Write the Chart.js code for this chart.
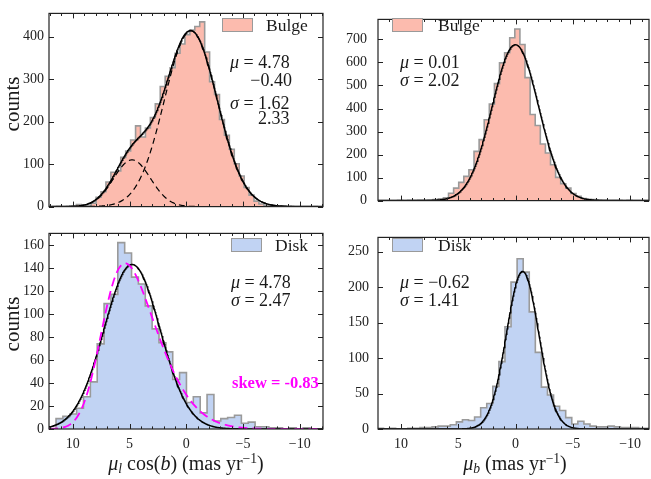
<!DOCTYPE html>
<html>
<head>
<meta charset="utf-8">
<script src="https://cdn.jsdelivr.net/npm/chart.js@4.4.1/dist/chart.umd.min.js"></script>
<style>
  html, body { margin: 0; padding: 0; background: #fff; }
  #fig { position: relative; width: 651px; height: 479px; overflow: hidden;
         font-family: 'Liberation Serif', 'Times New Roman', serif; color: #1a1a1a; }
  #fig canvas { position: absolute; }
  .t { position: absolute; white-space: nowrap; line-height: 1; }
  .ann { font-size: 18px; }
  .lab { font-size: 20px; }
  .leg { font-size: 17.5px; }
  .sw { position: absolute; width: 31px; height: 14px; border: 1.6px solid #9a9a9a; box-sizing: border-box; }
  sub, sup { font-size: 0.68em; line-height: 0; }
  sub { vertical-align: -0.25em; }
  sup { vertical-align: 0.55em; }
</style>
</head>
<body>
<div id="fig">
  <canvas id="cBulgeL" width="330" height="220" style="left:0;top:0"></canvas>
  <canvas id="cBulgeB" width="321" height="220" style="left:330px;top:0"></canvas>
  <canvas id="cDiskL" width="330" height="259" style="left:0;top:220px"></canvas>
  <canvas id="cDiskB" width="321" height="259" style="left:330px;top:220px"></canvas>

  <!-- legends -->
  <div class="sw" style="left:222px;top:18px;background:#FCBBAE"></div>
  <div class="t leg" style="left:266px;top:17px">Bulge</div>
  <div class="sw" style="left:392px;top:18px;background:#FCBBAE"></div>
  <div class="t leg" style="left:438px;top:17px">Bulge</div>
  <div class="sw" style="left:231px;top:238px;background:#C1D3F3"></div>
  <div class="t leg" style="left:275px;top:237px">Disk</div>
  <div class="sw" style="left:392px;top:238px;background:#C1D3F3"></div>
  <div class="t leg" style="left:438px;top:237px">Disk</div>

  <!-- fit parameters -->
  <div class="t ann" style="left:230px;top:53px"><i>μ</i> = 4.78</div>
  <div class="t ann" style="right:359px;top:71px">−0.40</div>
  <div class="t ann" style="left:230px;top:94px"><i>σ</i> = 1.62</div>
  <div class="t ann" style="left:258px;top:109px">2.33</div>

  <div class="t ann" style="left:400px;top:53px"><i>μ</i> = 0.01</div>
  <div class="t ann" style="left:400px;top:71px"><i>σ</i> = 2.02</div>

  <div class="t ann" style="left:231px;top:273px"><i>μ</i> = 4.78</div>
  <div class="t ann" style="left:231px;top:291px"><i>σ</i> = 2.47</div>
  <div class="t" style="left:232px;top:375px;font-size:16.5px;font-weight:bold;color:#FF00FF">skew = -0.83</div>

  <div class="t ann" style="left:400px;top:273px"><i>μ</i> = −0.62</div>
  <div class="t ann" style="left:400px;top:291px"><i>σ</i> = 1.41</div>

  <!-- axis titles -->
  <div class="t lab" style="left:12px;top:104px;font-size:21px;transform:translate(-50%,-50%) rotate(-90deg)">counts</div>
  <div class="t lab" style="left:12px;top:324px;font-size:21px;transform:translate(-50%,-50%) rotate(-90deg)">counts</div>
  <div class="t lab" style="left:186px;top:463px;transform:translate(-50%,-50%)"><i>μ</i><sub><i>l</i></sub> cos(<i>b</i>) (mas yr<sup>−1</sup>)</div>
  <div class="t lab" style="left:515px;top:463px;transform:translate(-50%,-50%)"><i>μ</i><sub><i>b</i></sub> (mas yr<sup>−1</sup>)</div>
</div>

<script>
// ---------- axes ----------
const xMajorTicks = [10, 5, 0, -5, -10];
const xMinorTicks = [12, 11, 9, 8, 7, 6, 4, 3, 2, 1, -1, -2, -3, -4, -6, -7, -8, -9, -11, -12];
const xRangeL = [-12.05, 12.1];          // mu_l cos(b) panels
const xRangeB = [-11.65, 12.0];          // mu_b panels
const yTicksBulgeL = [0, 100, 200, 300, 400];
const yTicksBulgeB = [0, 100, 200, 300, 400, 500, 600, 700];
const yTicksDiskL = [0, 20, 40, 60, 80, 100, 120, 140, 160];
const yTicksDiskB = [0, 50, 100, 150, 200, 250];
const yMaxBulgeL = 455, yMaxBulgeB = 787, yMaxDiskL = 170, yMaxDiskB = 270;

// ---------- histograms (first edge, bin width, counts from high to low proper motion) ----------
const bulgeLEdge0 = 11.865, bulgeLBin = 0.435;
const bulgeLCounts = [0, 1, 0, 1, 1, 5, 3, 3, 8, 22, 35, 58, 81, 84, 116, 131, 157, 190, 164, 185,
                      210, 242, 283, 307, 327, 361, 383, 405, 416, 424, 435,
                      364, 294, 264, 205, 168, 135, 101, 72, 45, 27, 13, 6, 3, 2, 1, 1, 0, 1, 0, 0, 0, 0, 0];
const bulgeBEdge0 = 12.075, bulgeBBin = 0.445;
const bulgeBCounts = [0, 0, 0, 0, 1, 0, 1, 1, 2, 2, 3, 5, 8, 12,
                      32, 54, 79, 105, 134, 214, 265, 351, 419, 508, 598, 642, 707, 745,
                      678, 534, 374, 326, 246, 207, 156, 101, 73, 54, 31, 19, 9, 6, 5,
                      3, 2, 1, 1, 1, 0, 1, 0, 0, 0, 0];
const diskLEdge0 = 11.48, diskLBin = 0.605;
const diskLCounts = [9, 11, 13, 18, 28, 41, 74, 109, 117, 162, 153, 132, 126, 107, 87, 75, 67, 43, 49, 23,
                     28, 14, 30, 7, 9, 10, 12, 5, 6, 2, 2, 1, 1, 0, 1, 0, 1, 0, 0];
const diskBEdge0 = 12.05, diskBBin = 0.53;
const diskBCounts = [1, 0, 1, 0, 0, 1, 1, 2, 2, 3, 4, 4, 6, 10, 13, 12, 17, 30, 36, 60, 95, 144, 207,
                     240, 221, 165, 108, 59, 48, 32, 26, 16, 7, 11, 7, 4, 3, 3, 4, 3, 2, 2, 2, 1, 1];

// ---------- fitted models ----------
const bulgeLMu = [4.78, -0.40], bulgeLSigma = [1.62, 2.33], bulgeLAmp = [110, 414];
const bulgeBMu = 0.01, bulgeBSigma = 2.02, bulgeBAmp = 677;
const diskLMu = 4.78, diskLSigma = 2.47, diskLAmp = 143;
const diskLSkewShape = -2.5, diskLSkewLoc = 7.33, diskLSkewScale = 3.85, diskLSkewPeak = 144;
const diskBMu = -0.62, diskBSigma = 1.41, diskBAmp = 222;

const FONT = "'Liberation Serif', 'Times New Roman', serif";
const BULGE_FILL = '#FCBBAE', DISK_FILL = '#C1D3F3', EDGE = '#9a9a9a', INK = '#222';

function gauss(x, mu, s, a) { return a * Math.exp(-0.5 * ((x - mu) / s) ** 2); }
function erf(x) {
  const t = 1 / (1 + 0.3275911 * Math.abs(x));
  const y = 1 - (((((1.061405429 * t - 1.453152027) * t) + 1.421413741) * t - 0.284496736) * t + 0.254829592) * t * Math.exp(-x * x);
  return x >= 0 ? y : -y;
}
function skewShape(z, a) { return 2 * Math.exp(-0.5 * z * z) / Math.sqrt(2 * Math.PI) * 0.5 * (1 + erf(a * z / Math.SQRT2)); }

function histPoints(edge0, width, counts) {
  const pts = [{ x: edge0, y: 0 }];
  counts.forEach((c, i) => pts.push({ x: edge0 - i * width, y: c }));
  pts.push({ x: edge0 - counts.length * width, y: 0 });
  return pts;
}
function curve(range, fn) {
  const pts = [];
  for (let x = range[1]; x >= range[0] - 1e-9; x -= 0.04) pts.push({ x, y: fn(x) });
  return pts;
}
const fmt = v => (v < 0 ? '\u2212' + Math.abs(v) : String(v));

// frame and inward tick marks on all four sides
const frameTicks = {
  id: 'frameTicks',
  afterDatasetsDraw(chart, args, opts) {
    const { ctx, chartArea: a, scales: { x, y } } = chart;
    ctx.save();
    ctx.strokeStyle = INK;
    ctx.lineWidth = 1;
    ctx.beginPath();
    const vx = (v, len) => {
      const p = Math.round(x.getPixelForValue(v)) + 0.5;
      ctx.moveTo(p, a.top); ctx.lineTo(p, a.top + len);
      ctx.moveTo(p, a.bottom); ctx.lineTo(p, a.bottom - len);
    };
    xMajorTicks.forEach(v => vx(v, 5));
    xMinorTicks.forEach(v => { if (v > x.min && v < x.max) vx(v, 2.6); });
    opts.yTicks.forEach(v => {
      const p = Math.round(y.getPixelForValue(v)) + 0.5;
      ctx.moveTo(a.left, p); ctx.lineTo(a.left + 5, p);
      ctx.moveTo(a.right, p); ctx.lineTo(a.right - 5, p);
    });
    ctx.stroke();
    ctx.lineWidth = 1.2;
    ctx.strokeRect(a.left, a.top, a.right - a.left, a.bottom - a.top);
    ctx.restore();
  }
};

function makePanel(id, cfg) {
  const datasets = [
    {
      data: histPoints(cfg.edge0, cfg.bin, cfg.counts), stepped: 'before', fill: 'origin',
      backgroundColor: cfg.fill, borderColor: EDGE, borderWidth: 1.6, pointRadius: 0, order: 5
    },
    ...cfg.curves.map(c => ({
      data: curve(cfg.xRange, c.fn), fill: false, borderColor: c.color, borderWidth: c.width,
      borderDash: c.dash || [], pointRadius: 0, tension: 0, order: 1
    }))
  ];
  new Chart(document.getElementById(id), {
    type: 'line',
    data: { datasets },
    options: {
      responsive: false, animation: false, devicePixelRatio: 1, events: [],
      layout: { padding: { top: 4, right: cfg.padRight, left: 0, bottom: 0 } },
      plugins: { legend: { display: false }, tooltip: { enabled: false }, frameTicks: { yTicks: cfg.yTicks } },
      scales: {
        x: {
          type: 'linear', reverse: true, min: cfg.xRange[0], max: cfg.xRange[1],
          grid: { display: false, drawTicks: false }, border: { display: false },
          afterBuildTicks: s => { s.ticks = xMajorTicks.map(v => ({ value: v })); },
          afterFit: s => { s.height = cfg.xHeight; },
          ticks: { display: cfg.xLabels, autoSkip: false, maxRotation: 0, padding: 7, color: INK,
                   font: { family: FONT, size: 14 }, callback: fmt }
        },
        y: {
          type: 'linear', min: 0, max: cfg.yMax,
          grid: { display: false, drawTicks: false }, border: { display: false },
          afterBuildTicks: s => { s.ticks = cfg.yTicks.map(v => ({ value: v })); },
          afterFit: s => { s.width = cfg.yWidth; },
          ticks: { autoSkip: false, padding: cfg.yPad, color: INK, font: { family: FONT, size: 14 }, callback: fmt }
        }
      }
    },
    plugins: [frameTicks]
  });
}

const black = (fn) => ({ fn, color: '#000', width: 1.5 });

makePanel('cBulgeL', {
  edge0: bulgeLEdge0, bin: bulgeLBin, counts: bulgeLCounts, fill: BULGE_FILL,
  xRange: xRangeL, yMax: yMaxBulgeL, yTicks: yTicksBulgeL, xLabels: false,
  yWidth: 49, xHeight: 11, padRight: 7, yPad: 5,
  curves: [
    black(x => gauss(x, bulgeLMu[0], bulgeLSigma[0], bulgeLAmp[0]) + gauss(x, bulgeLMu[1], bulgeLSigma[1], bulgeLAmp[1])),
    { fn: x => gauss(x, bulgeLMu[0], bulgeLSigma[0], bulgeLAmp[0]), color: '#000', width: 1.2, dash: [6, 4] },
    { fn: x => gauss(x, bulgeLMu[1], bulgeLSigma[1], bulgeLAmp[1]), color: '#000', width: 1.2, dash: [6, 4] }
  ]
});

makePanel('cBulgeB', {
  edge0: bulgeBEdge0, bin: bulgeBBin, counts: bulgeBCounts, fill: BULGE_FILL,
  xRange: xRangeB, yMax: yMaxBulgeB, yTicks: yTicksBulgeB, xLabels: false,
  yWidth: 48, xHeight: 11, padRight: 2, yPad: 11,
  curves: [black(x => gauss(x, bulgeBMu, bulgeBSigma, bulgeBAmp))]
});

const skewMax = (() => { let m = 0; for (let z = -3; z <= 3; z += 0.001) m = Math.max(m, skewShape(z, diskLSkewShape)); return m; })();
makePanel('cDiskL', {
  edge0: diskLEdge0, bin: diskLBin, counts: diskLCounts, fill: DISK_FILL,
  xRange: xRangeL, yMax: yMaxDiskL, yTicks: yTicksDiskL, xLabels: true,
  yWidth: 49, xHeight: 50, padRight: 7, yPad: 5,
  curves: [
    { fn: x => diskLSkewPeak / skewMax * skewShape((x - diskLSkewLoc) / diskLSkewScale, diskLSkewShape),
      color: '#FF00FF', width: 1.8, dash: [9, 5] },
    black(x => gauss(x, diskLMu, diskLSigma, diskLAmp))
  ]
});

makePanel('cDiskB', {
  edge0: diskBEdge0, bin: diskBBin, counts: diskBCounts, fill: DISK_FILL,
  xRange: xRangeB, yMax: yMaxDiskB, yTicks: yTicksDiskB, xLabels: true,
  yWidth: 48, xHeight: 50, padRight: 2, yPad: 9,
  curves: [black(x => gauss(x, diskBMu, diskBSigma, diskBAmp))]
});
</script>
</body>
</html>
